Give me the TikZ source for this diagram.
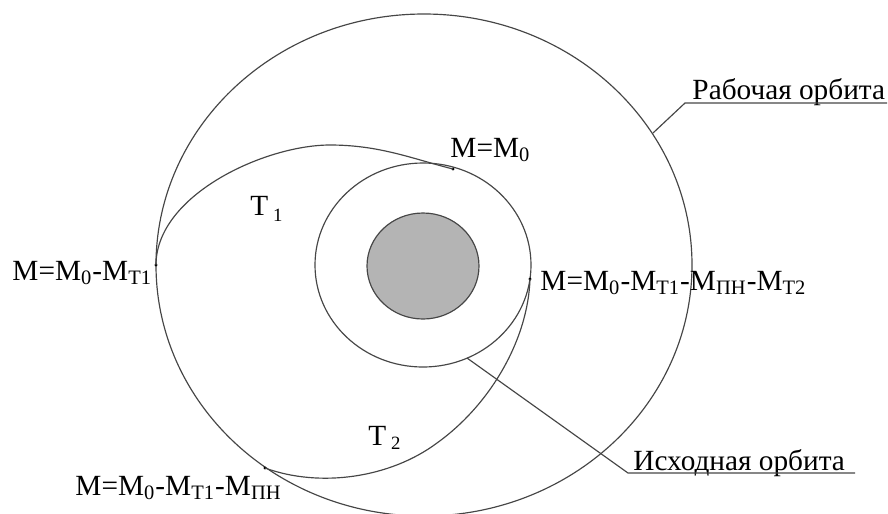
\documentclass[tikz,border=0pt]{standalone}
\usepackage{fontspec}
\setmainfont{Liberation Serif}
\usepackage{tikz}
\usetikzlibrary{positioning, calc}
\usepackage{xcolor}
\definecolor{PlanetGray}{RGB}{180,180,180}
\definecolor{LineGray}{RGB}{70,70,70}
\tikzset{
  orbit/.style={draw=LineGray,line width=0.5pt},
  leader/.style={draw=LineGray,line width=0.5pt},
  mdot/.style={circle,fill=black,inner sep=0pt,minimum size=0.5mm},
  lbl/.style={font=\fontsize{12.5}{14}\selectfont,inner sep=0pt,anchor=base west}
}

\begin{document}
\begin{tikzpicture}[x=0.15mm,y=-0.15mm]
  \useasboundingbox (0,0) rectangle (888,513);
  % orbits and planet
  \draw[orbit] (424,265) ellipse [x radius=268,y radius=251];
  \draw[orbit] (423,265) ellipse [x radius=108,y radius=102];
  \draw[orbit,fill=PlanetGray] (423,266) ellipse [x radius=56,y radius=53];
  % manoeuvre points
  \node[mdot] (m0) at (453,169) {};
  \node[mdot] (m1) at (156,265) {};
  \node[mdot] (m2) at (265,468) {};
  \node[mdot] (m3) at (530,279) {};
  % transfer arcs
  \draw[orbit] (m0.center) .. controls (413,159) and (380,145) .. (330,145)
     .. controls (265,145) and (156,195) .. (m1.center);
  \draw[orbit] (m2.center) .. controls (320,488) and (390,478) .. (437,443)
     .. controls (490,405) and (528,340) .. (m3.center);
  % labels
  \node[lbl] (lm0) at (450,157) {M=M\textsubscript{0}};
  \node[lbl] (lm1) at (12,280) {M=M\textsubscript{0}-M\textsubscript{Т1}};
  \node[lbl] (lm2) at (75,495) {M=M\textsubscript{0}-M\textsubscript{Т1}-M\textsubscript{ПН}};
  \node[lbl] (lm3) at (540,290) {M=M\textsubscript{0}-M\textsubscript{Т1}-M\textsubscript{ПН}-M\textsubscript{Т2}};
  \node[lbl] (lt1) at (250,215) {T\,\raisebox{-0.45ex}{\footnotesize 1}};
  \node[lbl] (lt2) at (368,445) {T\,\raisebox{-0.35ex}{\footnotesize 2}};
  \node[lbl] (lwork) at (692,99) {Рабочая орбита};
  \node[lbl] (linit) at (633,470) {Исходная орбита};
  % leaders
  \coordinate (w0) at (653,133);
  \coordinate (w1) at (685,103);
  \coordinate (w2) at (887,103);
  \draw[leader] (w0) -- (w1) -- (w2);
  \coordinate (i0) at (467,358);
  \coordinate (i1) at (628,473);
  \coordinate (i2) at (855,473);
  \draw[leader] (i0) -- (i1) -- (i2);
\end{tikzpicture}
\end{document}
